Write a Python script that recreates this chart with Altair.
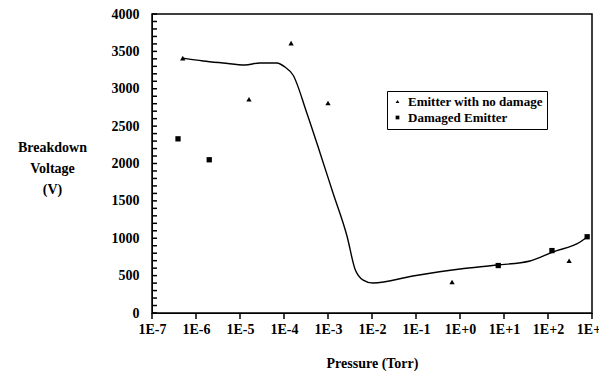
import altair as alt
import pandas as pd

# Smoothed trend line (pressure in Torr, voltage in V)
line_p = [5.0e-7, 1.45e-6, 4.1e-6, 1.3e-5, 2.8e-5, 6.9e-5, 1.05e-4, 1.6e-4, 3.3e-4,
          6.6e-4, 1.3e-3, 2.7e-3, 4.1e-3, 6.3e-3, 1.05e-2, 8.5e-2, 1.0, 7.2, 39, 129, 537, 776]
line_v = [3410, 3372, 3345, 3318, 3345, 3345, 3291, 3184, 2676,
          2141, 1606, 1030, 590, 441, 401, 495, 589, 642, 696, 816, 950, 1017]

# Emitter with no damage (triangles)
nodmg_p = [5.0e-7, 1.6e-5, 1.45e-4, 1.0e-3, 0.66, 302]
nodmg_v = [3410, 2860, 3610, 2810, 415, 700]

# Damaged Emitter (squares)
dmg_p = [3.9e-7, 2.0e-6, 7.4, 123, 776]
dmg_v = [2330, 2050, 635, 835, 1020]

series_names = ["Emitter with no damage", "Damaged Emitter"]
x_ticks = [1e-7, 1e-6, 1e-5, 1e-4, 1e-3, 1e-2, 1e-1, 1e0, 1e1, 1e2, 1e3]
y_labels = [0, 500, 1000, 1500, 2000, 2500, 3000, 3500, 4000]
y_ticks = list(range(0, 4001, 100))

line_df = pd.DataFrame({"p": line_p, "v": line_v})
pts_df = pd.DataFrame({
    "p": nodmg_p + dmg_p,
    "v": nodmg_v + dmg_v,
    "s": [series_names[0]] * len(nodmg_p) + [series_names[1]] * len(dmg_p),
})
xt_df = pd.DataFrame({"p": x_ticks})
yt_df = pd.DataFrame({"v": y_ticks})

FONT = "Liberation Serif"

xscale = alt.Scale(type="log", domain=[1e-7, 1e3], nice=False)
yscale = alt.Scale(domain=[0, 4000], nice=False)

xaxis = alt.Axis(
    values=x_ticks,
    labelExpr="'1E' + (round(log(datum.value)/LN10) >= 0 ? '+' : '') + round(log(datum.value)/LN10)",
    title="Pressure (Torr)", grid=False, ticks=False, tickSize=0, labelPadding=9,
    labelOverlap=False, labelFlush=False, titlePadding=20, domainColor="black",
    labelFont=FONT, labelFontSize=14, labelFontWeight="bold", labelColor="black",
    titleFont=FONT, titleFontSize=14, titleFontWeight="bold", titleColor="black",
)
yaxis = alt.Axis(
    values=y_labels,
    format="d", labelOverlap=False, labelFlush=False,
    title=["Breakdown", "Voltage", "(V)"], titleAngle=0, titleAlign="center",
    titleBaseline="top", titleX=-100, titleY=126, titleLineHeight=21,
    grid=False, ticks=False, tickSize=0, labelPadding=13,
    domainColor="black",
    labelFont=FONT, labelFontSize=14, labelFontWeight="bold", labelColor="black",
    titleFont=FONT, titleFontSize=14, titleFontWeight="bold", titleColor="black",
)

line = alt.Chart(line_df).mark_line(
    color="black", strokeWidth=1.4, interpolate="monotone"
).encode(
    x=alt.X("p:Q", scale=xscale, axis=xaxis),
    y=alt.Y("v:Q", scale=yscale, axis=yaxis),
)

pts = alt.Chart(pts_df).mark_point(filled=True, color="black", opacity=1, size=28).encode(
    x=alt.X("p:Q", scale=xscale, axis=xaxis),
    y=alt.Y("v:Q", scale=yscale, axis=yaxis),
    shape=alt.Shape("s:N", scale=alt.Scale(domain=series_names, range=["triangle-up", "square"]),
                    legend=alt.Legend(title=None, orient="none", legendX=235, legendY=77,
                                      strokeColor="black", padding=4, symbolSize=14,
                                      symbolFillColor="black", symbolStrokeColor="black",
                                      labelFont=FONT, labelFontSize=13, labelFontWeight="bold",
                                      labelColor="black", rowPadding=2, cornerRadius=0)),
)

# axis tick marks: y ticks point inward, x ticks point down
ytick = alt.Chart(yt_df).mark_tick(color="black", thickness=1.5, size=5, orient="horizontal", opacity=1).encode(
    y=alt.Y("v:Q", scale=yscale, axis=yaxis), x=alt.value(2.5)
)
xtick = alt.Chart(xt_df).mark_tick(color="black", thickness=1.5, size=6, orient="vertical", opacity=1).encode(
    x=alt.X("p:Q", scale=xscale, axis=xaxis), y=alt.value(302)
)

chart = alt.layer(line, pts, ytick, xtick).properties(
    width=440, height=299,
    background="white",
    autosize=alt.AutoSizeParams(type="none"),
    padding={"left": 144, "top": 6, "right": 7, "bottom": 64},
).configure_view(stroke="black", strokeWidth=1.5).configure_axis(
    labelFont=FONT, titleFont=FONT,
)

chart.save("out.html", embed_options={"renderer": "svg", "actions": False})
